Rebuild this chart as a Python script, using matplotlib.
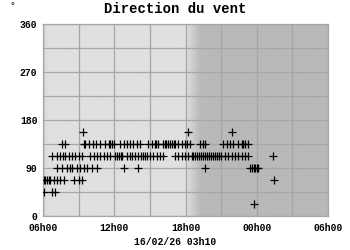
import numpy as np
import matplotlib.pyplot as plt

# heures depuis 06h00 (6 -> 30), direction en degres
hours_1575 = [9.37, 18.21, 21.92]
hours_135 = [7.60, 7.88, 9.43, 9.56, 9.85, 10.19, 10.49, 10.83, 11.20,
             11.53, 11.67, 11.83, 11.95, 12.51, 12.80, 13.05, 13.33, 13.60,
             13.89, 14.17, 14.87, 15.15, 15.43, 15.55, 15.68, 16.10, 16.25,
             16.40, 16.55, 16.70, 16.85, 17.00, 17.12, 17.37, 17.68, 17.96,
             18.10, 18.38, 19.22, 19.50, 19.64, 21.18, 21.47, 21.75, 22.03,
             22.45, 22.73, 22.87, 23.01, 23.29]
hours_1125 = [6.76, 7.18, 7.46, 7.66, 7.88, 8.16, 8.44, 8.72, 9.01, 9.28,
              9.98, 10.27, 10.55, 10.83, 11.11, 11.39, 11.67, 12.09, 12.25,
              12.40, 12.55, 12.65, 13.05, 13.33, 13.52, 13.75, 13.97, 14.25,
              14.42, 14.55, 14.73, 15.01, 15.29, 15.57, 15.85, 16.13, 17.12,
              17.40, 17.68, 17.96, 18.24, 18.52, 18.67, 18.83, 19.00, 19.17,
              19.33, 19.50, 19.67, 19.83, 20.00, 20.17, 20.33, 20.50, 20.67,
              20.83, 21.00, 21.33, 21.60, 21.89, 22.17, 22.45, 22.73, 23.01,
              23.29, 25.39]
hours_90 = [7.18, 7.60, 8.02, 8.30, 8.40, 8.86, 9.14, 9.43, 9.71, 10.13,
            10.55, 12.80, 14.03, 19.64, 23.43, 23.58, 23.73, 23.88, 24.03,
            24.13]
hours_675 = [6.06, 6.20, 6.35, 6.50, 6.61, 6.90, 7.18, 7.46, 7.74, 8.59,
             9.01, 9.28, 25.45]
hours_45 = [6.06, 6.76, 7.04]
hours_225 = [23.77]

series = [(157.5, hours_1575), (135, hours_135), (112.5, hours_1125),
          (90, hours_90), (67.5, hours_675), (45, hours_45), (22.5, hours_225)]

xtick_pos = [6, 12, 18, 24, 30]
xtick_labels = ["06h00", "12h00", "18h00", "00h00", "06h00"]
ytick_pos = [0, 90, 180, 270, 360]

FONT = "Liberation Mono"
GRID = "#a6a6a6"

fig = plt.figure(figsize=(3.5, 2.5), dpi=100)
ax = fig.add_axes([43 / 350, 34 / 250, 285 / 350, 192 / 250])

# fond : jour clair, nuit plus sombre
xs = np.linspace(6, 30, 800)
shade = np.interp(xs, [6, 6.35, 18.0, 19.3, 30], [0.83, 0.875, 0.875, 0.725, 0.725])
ax.imshow(shade[np.newaxis, :], extent=[6, 30, 0, 360], aspect="auto",
          cmap="gray", vmin=0, vmax=1, interpolation="bilinear", zorder=0)

for direction, hrs in series:
    ax.plot(hrs, [direction] * len(hrs), linestyle="none", marker="+",
            color="black", markersize=5.5, markeredgewidth=0.9, zorder=3)

ax.set_xlim(6, 30)
ax.set_ylim(0, 360)
ax.set_xticks(xtick_pos)
ax.set_xticklabels(xtick_labels)
ax.set_xticks(np.arange(9, 30, 6), minor=True)
ax.set_yticks(ytick_pos)
ax.set_yticks(np.arange(45, 360, 90), minor=True)
ax.grid(True, which="both", color=GRID, linewidth=0.9, zorder=1)
ax.set_axisbelow(False)
for sp in ax.spines.values():
    sp.set_color(GRID)
    sp.set_linewidth(0.9)
ax.tick_params(which="both", length=0)
ax.tick_params(axis="x", pad=5)
ax.tick_params(axis="y", pad=4)
for lab in ax.get_xticklabels() + ax.get_yticklabels():
    lab.set_fontfamily(FONT)
    lab.set_fontweight("bold")
    lab.set_fontsize(7)

fig.text(0.5, 0.965, "Direction du vent", ha="center", va="center",
         fontfamily=FONT, fontweight="bold", fontsize=10)
fig.text(12 / 350, 0.975, "°", ha="center", va="center",
         fontfamily=FONT, fontsize=7)
fig.text(0.5, 1 - 242 / 250, "16/02/26 03h10", ha="center", va="center",
         fontfamily=FONT, fontweight="bold", fontsize=7)

fig.savefig("out.png", dpi=100)
